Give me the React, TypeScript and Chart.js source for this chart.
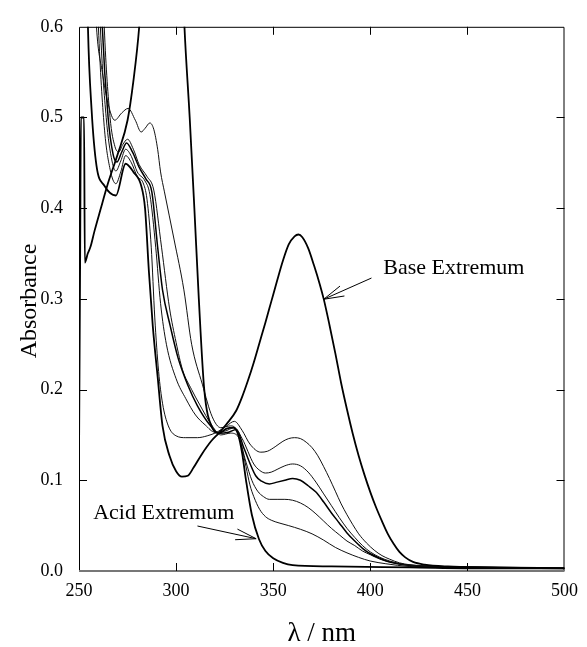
import React, { useEffect, useRef } from 'react';
import { Chart, registerables } from 'chart.js';
Chart.register(...registerables);

const FONT = "'Liberation Serif', 'Times New Roman', serif";

const xTicks = [250, 300, 350, 400, 450, 500];
const yTicks = [0, 0.1, 0.2, 0.3, 0.4, 0.5, 0.6];

// [wavelength nm, absorbance]
const acidExtremum: [number, number][] = [
  [250, 0.123], [250.6, 0.35], [251, 0.5], [252.6, 0.5], [253, 0.34], [254.5, 0.35], [256, 0.358], [258, 0.375],
  [261, 0.398], [265, 0.428], [270, 0.46], [275, 0.497], [278, 0.54], [281, 0.6], [284, 0.7], [290, 0.8],
  [300, 0.8], [302.5, 0.7], [304.3, 0.6], [307, 0.5], [309.4, 0.4], [311.7, 0.3], [314.5, 0.2], [318.6, 0.158],
  [322, 0.152], [326, 0.157], [329.5, 0.158], [332, 0.15], [334, 0.13], [336, 0.1], [339, 0.062], [342.7, 0.035],
  [346, 0.022], [350, 0.014], [355, 0.009], [360, 0.0065], [380, 0.005], [420, 0.004], [460, 0.003], [500, 0.003],
];

const baseExtremum: [number, number][] = [
  [250, 0.9], [253, 0.8], [254.6, 0.6], [256.5, 0.508], [259, 0.447], [263, 0.425], [269, 0.414], [274, 0.449],
  [278, 0.44], [282, 0.425], [284, 0.4], [286, 0.33], [288, 0.27], [290.5, 0.214], [293, 0.16], [296.6, 0.127],
  [300, 0.11], [303, 0.104], [306, 0.105], [309, 0.114], [313, 0.128], [318, 0.143], [322, 0.152], [326, 0.162],
  [331, 0.177], [334, 0.192], [337, 0.21], [340, 0.23], [343, 0.252], [346, 0.274], [349, 0.297], [352, 0.32],
  [355, 0.342], [358, 0.36], [361, 0.369], [363, 0.371], [365, 0.368], [368, 0.356], [371, 0.337], [374, 0.316],
  [376, 0.3], [379, 0.271], [382, 0.24], [385, 0.207], [388, 0.178], [391, 0.151], [394, 0.127], [397, 0.106],
  [400, 0.087], [403, 0.07], [406, 0.055], [409, 0.041], [412, 0.03], [415, 0.021], [418, 0.015], [422, 0.01],
  [428, 0.007], [440, 0.005], [460, 0.004], [500, 0.003],
];

const step1: [number, number][] = [
  [250, 0.9], [257, 0.8], [260, 0.6], [263, 0.49], [266, 0.443], [269, 0.427], [271.5, 0.44], [274, 0.458],
  [277, 0.45], [280, 0.435], [283, 0.428], [285, 0.41], [287.2, 0.357], [289, 0.28], [291, 0.22], [293, 0.185],
  [296, 0.16], [300, 0.149], [305, 0.147], [311, 0.147], [316, 0.149], [321, 0.153], [326, 0.16], [330, 0.165],
  [334, 0.155], [338, 0.14], [343.6, 0.131], [347, 0.132], [351, 0.137], [355, 0.143], [358, 0.146], [361, 0.147],
  [364, 0.146], [367, 0.142], [370, 0.136], [373, 0.127], [376, 0.115], [379, 0.102], [382, 0.088], [385, 0.074],
  [388, 0.062], [391, 0.051], [394, 0.041], [398, 0.031], [402, 0.023], [406, 0.017], [410, 0.013], [415, 0.009],
  [420, 0.007], [435, 0.005], [460, 0.004], [500, 0.003],
];

const step2: [number, number][] = [
  [250, 0.9], [258, 0.8], [261, 0.6], [264, 0.5], [267, 0.452], [269, 0.441], [271.5, 0.452], [274, 0.465],
  [277, 0.457], [280, 0.44], [284, 0.43], [286.5, 0.415], [289.5, 0.357], [292, 0.295], [295, 0.25], [300, 0.212],
  [305, 0.19], [310, 0.172], [315, 0.161], [320, 0.153], [325, 0.154], [330, 0.158], [334, 0.146], [340, 0.118],
  [343, 0.111], [346, 0.108], [349, 0.109], [352, 0.112], [356, 0.116], [360, 0.118], [364, 0.116], [368, 0.109],
  [372, 0.098], [376, 0.085], [380, 0.072], [384, 0.059], [388, 0.047], [392, 0.037], [396, 0.028], [400, 0.021],
  [405, 0.015], [410, 0.011], [418, 0.007], [435, 0.005], [460, 0.004], [500, 0.003],
];

const step3: [number, number][] = [
  [250, 0.9], [259, 0.8], [262, 0.6], [265, 0.5], [267.5, 0.46], [269.5, 0.451], [272, 0.462], [274.5, 0.472],
  [277.5, 0.462], [281, 0.445], [284.5, 0.432], [287.5, 0.418], [290.5, 0.357], [293, 0.31], [297, 0.27], [301, 0.235],
  [306, 0.205], [311, 0.182], [317, 0.162], [322, 0.152], [327, 0.153], [331, 0.156], [335, 0.135], [341, 0.105],
  [344, 0.099], [348, 0.096], [352, 0.098], [356, 0.1], [360, 0.102], [364, 0.1], [368, 0.094], [372, 0.087],
  [376, 0.076], [380, 0.064], [384, 0.053], [388, 0.042], [392, 0.033], [396, 0.025], [400, 0.019], [405, 0.014],
  [410, 0.01], [418, 0.007], [435, 0.005], [460, 0.004], [500, 0.003],
];

const step4: [number, number][] = [
  [250, 0.9], [260, 0.8], [263, 0.6], [266, 0.5], [268.5, 0.468], [270.5, 0.462], [272.5, 0.47], [275, 0.476],
  [278, 0.465], [281, 0.448], [285, 0.435], [288.5, 0.42], [292.5, 0.357], [296.6, 0.29], [300, 0.252], [303.3, 0.222],
  [308, 0.2], [312, 0.184], [318.6, 0.16], [323, 0.15], [328, 0.152], [332, 0.148], [336, 0.12], [339, 0.1],
  [342, 0.088], [345, 0.082], [348, 0.079], [352, 0.079], [356, 0.079], [360, 0.078], [364, 0.075], [368, 0.07],
  [372, 0.063], [376, 0.055], [380, 0.047], [384, 0.04], [388, 0.033], [392, 0.028], [396, 0.022], [400, 0.018],
  [405, 0.013], [410, 0.01], [420, 0.006], [440, 0.004], [500, 0.003],
];

const step5: [number, number][] = [
  [250, 0.9], [256, 0.75], [259, 0.6], [262, 0.55], [265, 0.515], [268.4, 0.497], [272, 0.505], [275.3, 0.51],
  [279, 0.497], [282, 0.484], [284, 0.488], [286.5, 0.494], [288.5, 0.487], [290.5, 0.465], [292, 0.44], [294, 0.418],
  [299, 0.365], [304, 0.31], [308, 0.25], [313.5, 0.206], [318.6, 0.17], [323, 0.158], [328, 0.16], [331, 0.156],
  [334, 0.135], [336, 0.115], [338, 0.095], [340, 0.082], [343, 0.068], [346, 0.06], [349, 0.056], [353, 0.053],
  [358, 0.05], [364, 0.046], [370, 0.041], [376, 0.034], [382, 0.026], [388, 0.02], [394, 0.015], [400, 0.011],
  [408, 0.008], [420, 0.005], [440, 0.004], [500, 0.003],
];

// annotation anchors in data units
const baseLabelAt: [number, number] = [406.7, 0.328];
const baseArrow: [number, number][] = [[400.6, 0.323], [376, 0.2996]];
const acidLabelAt: [number, number] = [257.3, 0.057];
const acidArrow: [number, number][] = [[311, 0.0496], [341.2, 0.0356]];

const toXY = (arr: [number, number][]) => arr.map(([x, y]) => ({ x, y }));

function drawArrow(ctx: CanvasRenderingContext2D, x0: number, y0: number, x1: number, y1: number) {
  const ang = Math.atan2(y0 - y1, x0 - x1);
  const len = 21;
  const spread = (15 * Math.PI) / 180;
  ctx.beginPath();
  ctx.moveTo(x0, y0);
  ctx.lineTo(x1, y1);
  ctx.moveTo(x1 + len * Math.cos(ang + spread), y1 + len * Math.sin(ang + spread));
  ctx.lineTo(x1, y1);
  ctx.lineTo(x1 + len * Math.cos(ang - spread), y1 + len * Math.sin(ang - spread));
  ctx.stroke();
}

const decorPlugin = {
  id: 'decor',
  afterDatasetsDraw(chart: any) {
    const { ctx, scales } = chart;
    const x = scales.x, y = scales.y;
    ctx.save();
    ctx.fillStyle = '#000';
    ctx.strokeStyle = '#000';
    ctx.lineWidth = 1;
    ctx.font = `22px ${FONT}`;
    ctx.textAlign = 'left';
    ctx.textBaseline = 'alphabetic';
    ctx.fillText('Base Extremum', x.getPixelForValue(baseLabelAt[0]), y.getPixelForValue(baseLabelAt[1]));
    ctx.fillText('Acid Extremum', x.getPixelForValue(acidLabelAt[0]), y.getPixelForValue(acidLabelAt[1]));
    drawArrow(ctx, x.getPixelForValue(baseArrow[0][0]), y.getPixelForValue(baseArrow[0][1]),
      x.getPixelForValue(baseArrow[1][0]), y.getPixelForValue(baseArrow[1][1]));
    drawArrow(ctx, x.getPixelForValue(acidArrow[0][0]), y.getPixelForValue(acidArrow[0][1]),
      x.getPixelForValue(acidArrow[1][0]), y.getPixelForValue(acidArrow[1][1]));
    ctx.restore();
  },
  afterDraw(chart: any) {
    const { ctx, chartArea: a, scales } = chart;
    const x = scales.x, y = scales.y;
    ctx.save();
    ctx.strokeStyle = '#000';
    ctx.lineWidth = 1;
    ctx.beginPath();
    ctx.moveTo(a.left + 0.5, a.bottom);
    ctx.lineTo(a.left + 0.5, a.top + 0.5);
    ctx.lineTo(a.right - 0.5, a.top + 0.5);
    ctx.lineTo(a.right - 0.5, a.bottom);
    ctx.stroke();
    ctx.strokeStyle = '#777';
    ctx.lineWidth = 2;
    ctx.beginPath();
    ctx.moveTo(a.left, a.bottom);
    ctx.lineTo(a.right, a.bottom);
    ctx.stroke();
    ctx.strokeStyle = '#000';
    ctx.lineWidth = 1;
    const tl = 8;
    ctx.beginPath();
    xTicks.forEach((v) => {
      const px = Math.round(x.getPixelForValue(v)) + 0.5;
      if (v === 250 || v === 500) return;
      ctx.moveTo(px, a.bottom);
      ctx.lineTo(px, a.bottom - tl);
      ctx.moveTo(px, a.top);
      ctx.lineTo(px, a.top + tl);
    });
    yTicks.forEach((v) => {
      const py = Math.round(y.getPixelForValue(v)) + 0.5;
      if (v === 0 || v === 0.6) return;
      ctx.moveTo(a.left, py);
      ctx.lineTo(a.left + tl, py);
      ctx.moveTo(a.right, py);
      ctx.lineTo(a.right - tl, py);
    });
    ctx.stroke();
    // axis titles
    ctx.fillStyle = '#000';
    ctx.font = `24px ${FONT}`;
    ctx.textAlign = 'center';
    ctx.textBaseline = 'alphabetic';
    ctx.save();
    ctx.translate(36, 301);
    ctx.rotate(-Math.PI / 2);
    ctx.fillText('Absorbance', 0, 0);
    ctx.restore();
    ctx.font = `27px ${FONT}`;
    ctx.fillText('λ / nm', (a.left + a.right) / 2, 641);
    ctx.restore();
  },
};

export default function App() {
  const ref = useRef<HTMLCanvasElement | null>(null);
  useEffect(() => {
    if (!ref.current) return;
    const thin = { borderColor: '#111', borderWidth: 1 };
    const chart = new Chart(ref.current, {
      type: 'line',
      data: {
        datasets: [
          { label: 'Acid Extremum', data: toXY(acidExtremum), borderColor: '#000', borderWidth: 1.8 },
          { label: 'Base Extremum', data: toXY(baseExtremum), borderColor: '#000', borderWidth: 1.8 },
          { label: 'Step 1', data: toXY(step1), ...thin },
          { label: 'Step 2', data: toXY(step2), ...thin },
          { label: 'Step 3', data: toXY(step3), borderColor: '#000', borderWidth: 1.5 },
          { label: 'Step 4', data: toXY(step4), ...thin },
          { label: 'Step 5', data: toXY(step5), ...thin },
        ] as any,
      },
      options: {
        responsive: false,
        animation: false,
        devicePixelRatio: 1,
        layout: { padding: { top: 15, right: 20, left: 0, bottom: 0 } },
        elements: {
          point: { radius: 0 },
          line: { cubicInterpolationMode: 'monotone', fill: false },
        },
        plugins: { legend: { display: false }, tooltip: { enabled: false } },
        scales: {
          x: {
            type: 'linear',
            min: 250,
            max: 500,
            afterFit: (s: any) => { s.height = 76; },
            grid: { display: false, drawTicks: false },
            border: { display: false },
            ticks: { stepSize: 50, color: '#000', padding: 9, font: { family: FONT, size: 18 } },
          },
          y: {
            type: 'linear',
            min: 0,
            max: 0.6,
            afterFit: (s: any) => { s.width = 79; },
            grid: { display: false, drawTicks: false },
            border: { display: false },
            ticks: {
              stepSize: 0.1,
              color: '#000',
              padding: 16,
              font: { family: FONT, size: 18 },
              callback: (v: any) => Number(v).toFixed(1),
            },
          },
        },
      } as any,
      plugins: [decorPlugin],
    });
    return () => chart.destroy();
  }, []);
  return (
    <div style={{ position: 'absolute', left: 0, top: 0, width: 587, height: 647, background: '#fff' }}>
      <canvas ref={ref} width={587} height={647} style={{ display: 'block' }} />
    </div>
  );
}
